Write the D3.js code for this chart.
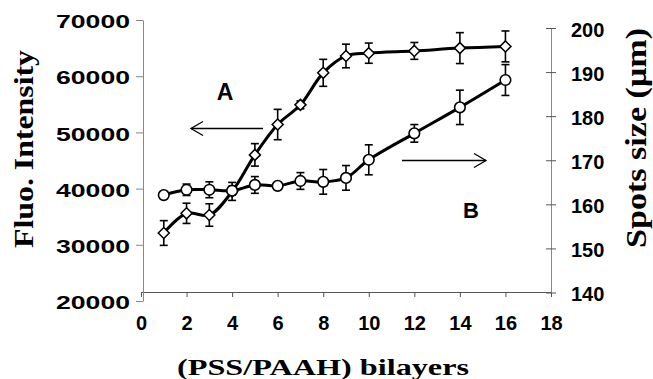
<!DOCTYPE html>
<html>
<head>
<meta charset="utf-8">
<script src="https://cdn.jsdelivr.net/npm/d3@7"></script>
<style>
  body { margin: 0; background: #fff; }
  svg { display: block; }
</style>
</head>
<body>
<script>
// datos
var bilayers = [1, 2, 3, 4, 5, 6, 7, 8, 9, 10, 12, 14, 16];
var fluo = [32100, 35600, 35300, 39500, 46000, 51400, 54900, 60600, 63600, 64100, 64500, 65000, 65300];
var fluoErr = [2200, 1800, 2000, 1600, 2000, 2700, 700, 2400, 2100, 1800, 1500, 2750, 2750];
var spot = [162.1, 163.3, 163.3, 163.1, 164.4, 164.2, 165.3, 165.1, 166.0, 170.1, 176.1, 182.0, 188.2];
var spotErr = [0.5, 1.3, 1.8, 1.0, 1.9, 0.4, 1.9, 2.8, 2.8, 3.4, 2.0, 3.9, 3.5];

var xTicks = [0, 2, 4, 6, 8, 10, 12, 14, 16, 18];
var leftTicks = [20000, 30000, 40000, 50000, 60000, 70000];
var rightTicks = [140, 150, 160, 170, 180, 190, 200];

var svg = d3.select("body").append("svg")
    .attr("width", 653)
    .attr("height", 379);

// escalas
var x = d3.scaleLinear().domain([0, 18]).range([141, 551]);
var yL = d3.scaleLinear().domain([20000, 70000]).range([301, 20]);
var yR = d3.scaleLinear().domain([140, 200]).range([292.5, 28]);

var sans = "'Liberation Sans', Arial, sans-serif";
var serif = "'Liberation Serif', 'Times New Roman', serif";

// eje X
var gx = svg.append("g")
    .attr("transform", "translate(0,292)")
    .call(d3.axisBottom(x).tickValues(xTicks).tickFormat(d3.format("d"))
        .tickSize(5).tickSizeOuter(0).tickPadding(19));
gx.select(".domain").attr("stroke", "#555");
gx.selectAll(".tick line").attr("stroke", "#555");
gx.selectAll("text")
    .style("font-family", sans).style("font-weight", "bold").style("font-size", "20px")
    .attr("fill", "#000");

// eje izquierdo
var gl = svg.append("g")
    .attr("transform", "translate(143,0)")
    .call(d3.axisLeft(yL).tickValues(leftTicks).tickFormat(d3.format("d"))
        .tickSize(7).tickSizeOuter(0).tickPadding(6));
gl.select(".domain").attr("stroke", "#888");
gl.selectAll(".tick line").attr("stroke", "#888");
gl.selectAll("text")
    .style("font-family", sans).style("font-weight", "bold").style("font-size", "19px")
    .attr("dy", "0.4em").attr("fill", "#000")
    .attr("textLength", 74).attr("lengthAdjust", "spacingAndGlyphs");

// eje derecho
var gr = svg.append("g")
    .attr("transform", "translate(551,0)")
    .call(d3.axisRight(yR).tickValues(rightTicks).tickFormat(d3.format("d"))
        .tickSize(5).tickSizeOuter(0).tickPadding(15));
gr.select(".domain").attr("stroke", "#888");
gr.selectAll(".tick line").attr("stroke", "#555").attr("x1", -5);
gr.selectAll("text")
    .style("font-family", sans).style("font-weight", "bold").style("font-size", "20px")
    .attr("dy", "0.4em").attr("fill", "#000");

// titulos de ejes
svg.append("text")
    .attr("transform", "translate(33,149) rotate(-90)")
    .attr("text-anchor", "middle")
    .attr("textLength", 198).attr("lengthAdjust", "spacingAndGlyphs")
    .style("font-family", serif).style("font-weight", "bold").style("font-size", "28px")
    .text("Fluo. Intensity");

svg.append("text")
    .attr("transform", "translate(646,138) rotate(-90)")
    .attr("text-anchor", "middle")
    .attr("textLength", 220).attr("lengthAdjust", "spacingAndGlyphs")
    .style("font-family", serif).style("font-weight", "bold").style("font-size", "29px")
    .text("Spots size (\u03bcm)");

svg.append("text")
    .attr("x", 323).attr("y", 375)
    .attr("text-anchor", "middle")
    .attr("textLength", 292).attr("lengthAdjust", "spacingAndGlyphs")
    .style("font-family", serif).style("font-weight", "bold").style("font-size", "24px")
    .text("(PSS/PAAH) bilayers");

// series
var datosA = bilayers.map(function(b, i) { return {x: b, v: fluo[i], e: fluoErr[i]}; });
var datosB = bilayers.map(function(b, i) { return {x: b, v: spot[i], e: spotErr[i]}; });

svg.append("path")
    .datum(datosA)
    .attr("fill", "none").attr("stroke", "#000").attr("stroke-width", 3)
    .attr("d", d3.line().curve(d3.curveCatmullRom)
        .x(function(d) { return x(d.x); })
        .y(function(d) { return yL(d.v); }));

svg.append("path")
    .datum(datosB)
    .attr("fill", "none").attr("stroke", "#000").attr("stroke-width", 3)
    .attr("d", d3.line().curve(d3.curveCatmullRom)
        .x(function(d) { return x(d.x); })
        .y(function(d) { return yR(d.v); }));

// barras de error
function barras(datos, y) {
    var g = svg.append("g").attr("stroke", "#000").attr("stroke-width", 1.6);
    datos.forEach(function(d) {
        var cx = x(d.x), y1 = y(d.v + d.e), y2 = y(d.v - d.e);
        g.append("line").attr("x1", cx).attr("x2", cx).attr("y1", y1).attr("y2", y2);
        g.append("line").attr("x1", cx - 4).attr("x2", cx + 4).attr("y1", y1).attr("y2", y1);
        g.append("line").attr("x1", cx - 4).attr("x2", cx + 4).attr("y1", y2).attr("y2", y2);
    });
}
barras(datosA, yL);
barras(datosB, yR);

// marcadores
svg.append("g").selectAll("path")
    .data(datosA).enter().append("path")
    .attr("transform", function(d) { return "translate(" + x(d.x) + "," + yL(d.v) + ")"; })
    .attr("d", "M0,-5.5L5.5,0L0,5.5L-5.5,0Z")
    .attr("fill", "#fff").attr("stroke", "#000").attr("stroke-width", 1.5);

svg.append("g").selectAll("circle")
    .data(datosB).enter().append("circle")
    .attr("cx", function(d) { return x(d.x); })
    .attr("cy", function(d) { return yR(d.v); })
    .attr("r", 5.3)
    .attr("fill", "#fff").attr("stroke", "#000").attr("stroke-width", 1.6);

// anotaciones A y B con flechas
svg.append("text")
    .attr("x", 225).attr("y", 100).attr("text-anchor", "middle")
    .style("font-family", sans).style("font-weight", "bold").style("font-size", "23px")
    .text("A");
svg.append("text")
    .attr("x", 471).attr("y", 218).attr("text-anchor", "middle")
    .style("font-family", sans).style("font-weight", "bold").style("font-size", "22px")
    .text("B");

var flechas = svg.append("g").attr("stroke", "#000").attr("stroke-width", 1.3).attr("fill", "none");
flechas.append("line").attr("x1", 263).attr("y1", 128.5).attr("x2", 191).attr("y2", 128.5);
flechas.append("path").attr("d", "M203,121.5L191,128.5L203,135.5");
flechas.append("line").attr("x1", 402).attr("y1", 160.5).attr("x2", 486).attr("y2", 160.5);
flechas.append("path").attr("d", "M474,153.5L486,160.5L474,167.5");
</script>
</body>
</html>
